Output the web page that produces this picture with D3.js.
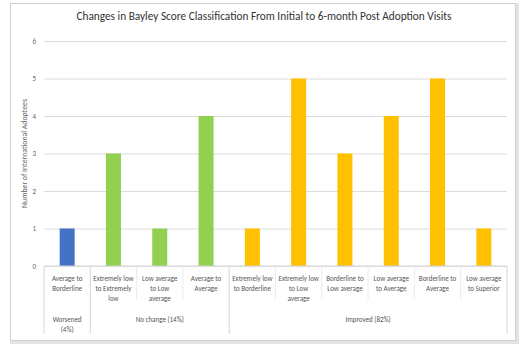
<!DOCTYPE html>
<html>
<head>
<meta charset="utf-8">
<script src="https://cdn.jsdelivr.net/npm/d3@7"></script>
<style>
  body { margin: 0; background: #fff; }
  svg { font-family: Calibri, Carlito, "Liberation Sans", Arial, sans-serif; }
</style>
</head>
<body>
<svg id="chart" width="520" height="350"></svg>
<script>
// data
const categories = [
  ["Average to", "Borderline"],
  ["Extremely low", "to Extremely", "low"],
  ["Low average", "to Low", "average"],
  ["Average to", "Average"],
  ["Extremely low", "to Borderline"],
  ["Extremely low", "to Low", "average"],
  ["Borderline to", "Low average"],
  ["Low average", "to Average"],
  ["Borderline to", "Average"],
  ["Low average", "to Superior"]
];
const values = [1, 3, 1, 4, 1, 5, 3, 4, 5, 1];
const groupNames = [["Worsened", "(4%)"], ["No change (14%)"], ["Improved (82%)"]];
const groupOf = [0, 1, 1, 1, 2, 2, 2, 2, 2, 2];
const groupColors = ["#4472C4", "#92D050", "#FFC000"];
const yTicks = [0, 1, 2, 3, 4, 5, 6];

const svg = d3.select("#chart");
const margin = { top: 41, right: 13, bottom: 84, left: 44 };
const width = 520, height = 350;

// outer frame with soft shadow
svg.append("rect")
  .attr("x", 11.5).attr("y", 4.5).attr("width", 506).attr("height", 338)
  .attr("fill", "none").attr("stroke", "#e4e4e4").attr("stroke-width", 3);
svg.append("rect")
  .attr("x", 10.5).attr("y", 3.5).attr("width", 505).attr("height", 337)
  .attr("fill", "#fff").attr("stroke", "#cfcfcf");

const x = d3.scaleBand()
  .domain(d3.range(values.length))
  .range([margin.left, width - margin.right])
  .paddingInner(0).paddingOuter(0);
const y = d3.scaleLinear()
  .domain([0, 6])
  .range([height - margin.bottom, margin.top]);

// title
svg.append("text")
  .attr("x", 264).attr("y", 20)
  .attr("text-anchor", "middle")
  .attr("font-size", 11.3).attr("fill", "#333")
  .text("Changes in Bayley Score Classification From Initial to 6-month Post Adoption Visits");

// gridlines + y ticks
const yAxis = svg.append("g")
  .attr("transform", `translate(${margin.left},0)`)
  .call(d3.axisLeft(y).tickValues(yTicks).tickFormat(d3.format("d"))
    .tickSize(-(width - margin.left - margin.right)).tickPadding(8));
yAxis.select(".domain").remove();
yAxis.selectAll(".tick line").attr("stroke", "#dcdcdc");
yAxis.selectAll(".tick text").attr("fill", "#666").attr("font-size", 7)
  .attr("font-family", "Calibri, Carlito, 'Liberation Sans', sans-serif");

// y title
svg.append("text")
  .attr("transform", `translate(27,${(y(0) + y(6)) / 2}) rotate(-90)`)
  .attr("text-anchor", "middle")
  .attr("font-size", 7.8).attr("fill", "#666")
  .text("Number of International Adoptees");

// bars
const barW = 15;
svg.append("g").selectAll("rect")
  .data(values)
  .join("rect")
  .attr("x", (d, i) => x(i) + x.bandwidth() / 2 - barW / 2)
  .attr("y", d => y(d))
  .attr("width", barW)
  .attr("height", d => y(0) - y(d))
  .attr("fill", (d, i) => groupColors[groupOf[i]]);

// category separators
const sepBottomShort = 300, sepBottomLong = 334;
const boundaries = d3.range(values.length + 1);
const isGroupEdge = i => i === 0 || i === values.length || groupOf[i] !== groupOf[i - 1];
svg.append("g").selectAll("line")
  .data(boundaries)
  .join("line")
  .attr("x1", i => i < values.length ? x(i) : x.range()[1])
  .attr("x2", i => i < values.length ? x(i) : x.range()[1])
  .attr("y1", y(0))
  .attr("y2", i => isGroupEdge(i) ? sepBottomLong : sepBottomShort)
  .attr("stroke", i => isGroupEdge(i) ? "#d6d6d6" : "#ececec");

// baseline
svg.append("line")
  .attr("x1", x.range()[0]).attr("x2", x.range()[1])
  .attr("y1", y(0)).attr("y2", y(0))
  .attr("stroke", "#d6d6d6");

// category labels
const catG = svg.append("g").attr("font-size", 7).attr("fill", "#555").attr("text-anchor", "middle");
categories.forEach((lines, i) => {
  const cx = x(i) + x.bandwidth() / 2;
  const t = catG.append("text").attr("x", cx).attr("y", y(0) + 15);
  lines.forEach((l, k) => t.append("tspan").attr("x", cx).attr("dy", k === 0 ? 0 : 10).text(l));
});

// group labels
const grpG = svg.append("g").attr("font-size", 7).attr("fill", "#555").attr("text-anchor", "middle");
groupNames.forEach((lines, g) => {
  const idx = d3.range(values.length).filter(i => groupOf[i] === g);
  const cx = (x(idx[0]) + x(idx[idx.length - 1]) + x.bandwidth()) / 2;
  const t = grpG.append("text").attr("x", cx).attr("y", 322);
  lines.forEach((l, k) => t.append("tspan").attr("x", cx).attr("dy", k === 0 ? 0 : 10).text(l));
});
</script>
</body>
</html>
